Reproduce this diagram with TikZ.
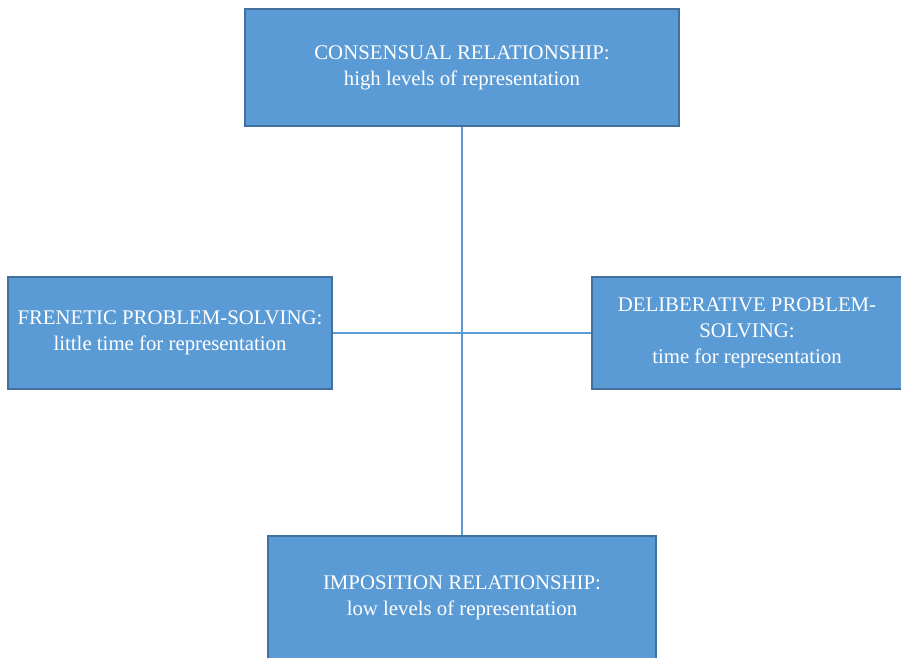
\documentclass[tikz,border=0pt]{standalone}
\usepackage{fontspec}
\setmainfont{Liberation Serif}
\definecolor{boxfill}{HTML}{5B9BD5}
\definecolor{boxedge}{HTML}{41719C}
\definecolor{linkcol}{HTML}{5B9BD5}
\begin{document}
\begin{tikzpicture}[x=1pt,y=-1pt,
  catbox/.style={draw=boxedge,line width=2.2pt,fill=boxfill,text=white,
    align=center,inner sep=0pt,font=\fontsize{20.8}{26}\selectfont},
  link/.style={draw=linkcol,line width=1.1pt}]
\useasboundingbox (0,0) rectangle (901,657);
\node[catbox,minimum width=434pt,minimum height=117pt] (top) at (462,67.5)
  {CONSENSUAL RELATIONSHIP:\\high levels of representation};
\node[catbox,minimum width=324pt,minimum height=112pt] (left) at (170,333)
  {FRENETIC PROBLEM-SOLVING:\\little time for representation};
\node[catbox,minimum width=310pt,minimum height=112pt] (right) at (747,333)
  {DELIBERATIVE PROBLEM-\\SOLVING:\\time for representation};
\node[catbox,minimum width=388pt,minimum height=124pt] (bottom) at (462,598)
  {IMPOSITION RELATIONSHIP:\\low levels of representation};
\draw[link] (top.south) -- (bottom.north);
\draw[link] (left.east) -- (right.west);
\end{tikzpicture}
\end{document}
